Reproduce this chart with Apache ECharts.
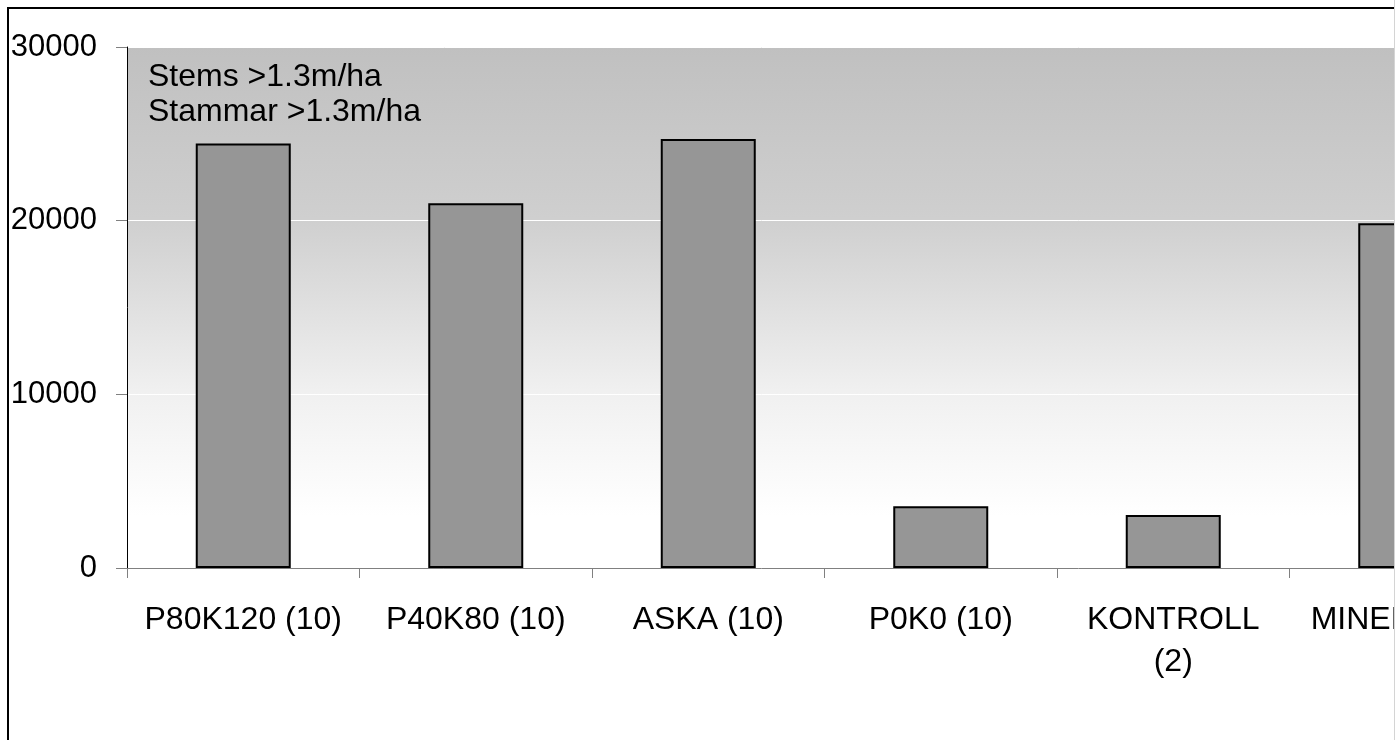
<!DOCTYPE html>
<html>
<head>
<meta charset="utf-8">
<style>
  html, body { margin: 0; padding: 0; background: #fff; }
  #chart { width: 1395px; height: 740px; }
</style>
<script src="https://cdn.jsdelivr.net/npm/echarts@6/dist/echarts.min.js"></script>
</head>
<body>
<div id="chart"></div>
<script>
var categories = ['P80K120 (10)', 'P40K80 (10)', 'ASKA (10)', 'P0K0 (10)', 'KONTROLL\n(2)', 'MINERAL (2)'];
var stems = [24450, 21000, 24700, 3550, 3050, 19850];
var yTicks = { min: 0, max: 30000, interval: 10000 };
var noteLines = ['Stems >1.3m/ha', 'Stammar >1.3m/ha'];

var FONT = "'Liberation Sans', Arial, Helvetica, sans-serif";
var chart = echarts.init(document.getElementById('chart'), null, { renderer: 'canvas' });

chart.setOption({
  animation: false,
  backgroundColor: '#ffffff',
  title: {
    text: noteLines.join('\n'),
    left: 148,
    top: 60,
    padding: 0,
    textStyle: { fontFamily: FONT, fontSize: 32, fontWeight: 'normal', color: '#000', lineHeight: 35 }
  },
  grid: {
    left: 127,
    top: 47,
    width: 1395,
    height: 521,
    outerBoundsMode: 'none',
    containLabel: false,
    show: true,
    borderWidth: 0,
    backgroundColor: new echarts.graphic.LinearGradient(0, 0, 0, 1, [
      { offset: 0, color: '#c0c0c0' },
      { offset: 0.33, color: '#cfcfcf' },
      { offset: 0.66, color: '#f0f0f0' },
      { offset: 0.9, color: '#ffffff' },
      { offset: 1, color: '#ffffff' }
    ])
  },
  xAxis: {
    type: 'category',
    data: categories,
    axisLine: { show: true, lineStyle: { color: '#808080', width: 1 } },
    axisTick: { show: true, length: 10, lineStyle: { color: '#808080' } },
    axisLabel: { interval: 0, margin: 31, fontFamily: FONT, fontSize: 32, color: '#000', lineHeight: 42 }
  },
  yAxis: {
    type: 'value',
    min: yTicks.min,
    max: yTicks.max,
    interval: yTicks.interval,
    axisLine: { show: true, lineStyle: { color: '#000', width: 1 } },
    axisTick: { show: true, length: 11, lineStyle: { color: '#808080' } },
    axisLabel: { margin: 30, fontFamily: FONT, fontSize: 31, color: '#000', formatter: function (v) { return String(v); } },
    splitLine: { show: true, lineStyle: { color: '#ffffff', width: 1 } }
  },
  series: [{
    type: 'bar',
    data: stems,
    barWidth: 95,
    itemStyle: { color: '#969696', borderColor: '#000', borderWidth: 2 }
  }],
  graphic: [
    {
      type: 'rect',
      shape: { x: 8, y: 8, width: 2000, height: 2000 },
      style: { fill: null, stroke: '#000', lineWidth: 2 },
      silent: true,
      z: 100
    },
    {
      type: 'line',
      shape: { x1: 1394.5, y1: 0, x2: 1394.5, y2: 740 },
      style: { stroke: '#d4d4d4', lineWidth: 1 },
      silent: true,
      z: 100
    }
  ]
});
</script>
</body>
</html>
